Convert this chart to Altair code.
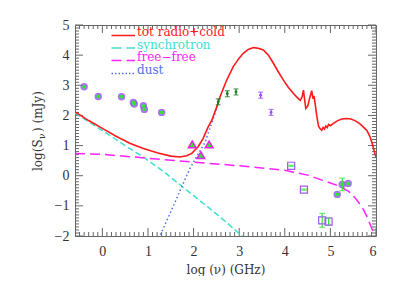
import altair as alt
import pandas as pd
import numpy as np

# ---- curves ----
tot_x = [-0.6, -0.3, 0.0, 0.3, 0.6, 0.9, 1.2, 1.5, 1.7, 1.85, 1.96, 2.1, 2.21, 2.32, 2.4, 2.5, 2.58, 2.72,
         2.87, 3.0, 3.09, 3.2, 3.31, 3.42, 3.53, 3.65, 3.75, 3.86, 3.97, 4.08, 4.19, 4.3, 4.34, 4.38, 4.41,
         4.43, 4.46, 4.5, 4.55, 4.59, 4.62, 4.64, 4.66, 4.7, 4.74, 4.78, 4.81, 4.84, 4.87, 4.9, 4.93, 4.96,
         5.0, 5.06, 5.15, 5.25, 5.35, 5.45, 5.55, 5.65, 5.72, 5.8, 5.87, 5.92, 5.96, 6.0]
tot_y = [2.12, 1.83, 1.57, 1.31, 1.08, 0.90, 0.76, 0.65, 0.62, 0.66, 0.74, 0.96, 1.24, 1.62, 1.84, 2.25, 2.62, 3.15,
         3.62, 3.90, 4.06, 4.19, 4.25, 4.23, 4.17, 3.98, 3.73, 3.44, 3.17, 2.93, 2.73, 2.55, 2.50, 2.62, 2.84,
         2.58, 2.23, 2.30, 2.60, 2.82, 2.55, 2.65, 2.45, 2.00, 1.64, 1.55, 1.51, 1.60, 1.55, 1.65, 1.60, 1.70,
         1.66, 1.73, 1.82, 1.88, 1.90, 1.88, 1.82, 1.72, 1.62, 1.50, 1.29, 1.05, 0.82, 0.62]
syn_x = [-0.6, 0.0, 0.5, 0.9, 1.4, 1.85, 2.3, 2.7, 3.06, 3.2]
syn_y = [2.08, 1.50, 1.00, 0.62, 0.07, -0.48, -1.02, -1.52, -2.0, -2.18]
ff_x = [-0.6, 0.0, 1.0, 2.0, 3.0, 4.0, 4.5, 5.0, 5.2, 5.4, 5.55, 5.7, 5.8, 5.9, 6.0]
ff_y = [0.74, 0.71, 0.58, 0.45, 0.33, 0.18, 0.02, -0.24, -0.35, -0.52, -0.75, -1.05, -1.35, -1.72, -2.1]
dust_x = [1.2, 1.26, 1.5, 1.74, 1.92, 2.1, 2.25, 2.4, 2.58]
dust_y = [-2.2, -2.0, -1.2, -0.37, 0.24, 0.72, 1.1, 1.75, 2.6]

# ---- observed points ----
circ_x = [-0.40, -0.09, 0.42, 0.68, 0.70, 0.90, 0.92, 1.30, 5.15, 5.26, 5.39]
circ_y = [2.95, 2.63, 2.62, 2.43, 2.38, 2.32, 2.20, 2.10, -0.62, -0.29, -0.26]
circ_e = [0, 0, 0, 0, 0, 0, 0, 0, 0, 0.21, 0]
tri_x = [1.97, 2.16, 2.34]
tri_y = [1.04, 0.68, 1.04]
sq_x = [4.14, 4.42, 4.82, 4.96]
sq_y = [0.33, -0.46, -1.48, -1.52]
sq_e = [0.02, 0.02, 0.23, 0.12]
gx = [2.54, 2.74, 2.93]
gy = [2.45, 2.72, 2.78]
pux = [3.47, 3.70]
puy = [2.67, 2.10]
lim_e = 0.1

x_ticks = [0, 1, 2, 3, 4, 5, 6]
y_ticks = [-2, -1, 0, 1, 2, 3, 4, 5]

legend_labels = ["tot radio+cold", "synchrotron", "free\u2212free", "dust"]
legend_colors = ["#ff1a1a", "#40e0d0", "#ff22ff", "#4f6fe8"]
ytitle_parts = ["log(S", "\u03bd", ") (mJy)"]

W, H = 301, 211
SERIF = "DejaVu Serif"
xs = alt.Scale(domain=[-0.6, 6], nice=False, zero=False)
ys = alt.Scale(domain=[-2, 5], nice=False, zero=False)

AX_X = alt.Axis(values=x_ticks, ticks=False, domain=False, grid=False, labelFont="Liberation Serif",
                labelFontSize=14, labelColor="#333", labelPadding=8, titleFont=SERIF,
                titleFontSize=12, titleFontWeight="normal", titleColor="#333", titlePadding=6)
AX_Y = alt.Axis(values=y_ticks, ticks=False, domain=False, grid=False, labelFont="Liberation Serif",
                labelFontSize=14, labelColor="#333", labelPadding=6)
XT = "log (\u03bd) (GHz)"

X = lambda f="x": alt.X(f, type="quantitative", scale=xs, axis=AX_X, title=XT)
Y = lambda f="y": alt.Y(f, type="quantitative", scale=ys, axis=AX_Y, title=None)

def line(xv, yv, color, dash=None, width=1.5):
    df = pd.DataFrame({"x": xv, "y": yv, "o": range(len(xv))})
    kw = dict(color=color, strokeWidth=width, clip=True)
    if dash:
        kw["strokeDash"] = dash
    return alt.Chart(df).mark_line(**kw).encode(x=X(), y=Y(), order="o:Q")

layers = []

# inward ticks
minor_x = [round(v, 1) for v in np.arange(-0.5, 6.0, 0.1) if abs(v - round(v)) > 1e-6]
minor_y = [round(v, 1) for v in np.arange(-1.9, 5.0, 0.1) if abs(v - round(v)) > 1e-6]
tick_col = "#666"
for vals, L in [(x_ticks, 8), (minor_x, 4)]:
    d = pd.DataFrame({"x": vals})
    layers.append(alt.Chart(d).mark_rule(color=tick_col, strokeWidth=1).encode(
        x=X(), y=alt.value(H), y2=alt.value(H - L)))
    layers.append(alt.Chart(d).mark_rule(color=tick_col, strokeWidth=1).encode(
        x=X(), y=alt.value(0), y2=alt.value(L)))
for vals, L in [(y_ticks, 8), (minor_y, 4)]:
    d = pd.DataFrame({"y": vals})
    layers.append(alt.Chart(d).mark_rule(color=tick_col, strokeWidth=1).encode(
        y=Y(), x=alt.value(0), x2=alt.value(L)))
    layers.append(alt.Chart(d).mark_rule(color=tick_col, strokeWidth=1).encode(
        y=Y(), x=alt.value(W), x2=alt.value(W - L)))

# curves
layers.append(line(syn_x, syn_y, legend_colors[1], [6, 3]))
layers.append(line(ff_x, ff_y, legend_colors[2], [10, 5]))
layers.append(line(dust_x, dust_y, legend_colors[3], [1.5, 2.5]))
layers.append(line(tot_x, tot_y, legend_colors[0], None, 1.6))

GREEN = "#2ee82e"
PURPLE = "#9b5cf0"

# circles
cdf = pd.DataFrame({"x": circ_x, "y": circ_y, "lo": [a - e for a, e in zip(circ_y, circ_e)],
                    "hi": [a + e for a, e in zip(circ_y, circ_e)], "e": circ_e})
cdf_e = cdf[cdf.e > 0]
layers.append(alt.Chart(cdf).mark_point(shape="circle", filled=True, size=55, color=PURPLE, opacity=0.85).encode(x=X(), y=Y()))
layers.append(alt.Chart(cdf).mark_point(shape="circle", filled=True, size=14, color=GREEN, opacity=1).encode(x=X(), y=Y()))
layers.append(alt.Chart(cdf_e).mark_rule(color=GREEN, strokeWidth=1.2).encode(x=X(), y=Y("lo"), y2="hi"))
for f in ["lo", "hi"]:
    layers.append(alt.Chart(cdf_e).mark_tick(color=GREEN, thickness=1.2, size=6, orient="horizontal").encode(x=X(), y=Y(f)))

# triangles
tdf = pd.DataFrame({"x": tri_x, "y": tri_y})
layers.append(alt.Chart(tdf).mark_point(shape="triangle-up", filled=True, size=60, fill=GREEN, stroke="#ee22ee",
                                        strokeWidth=1.5, opacity=1).encode(x=X(), y=Y()))

# squares
sdf = pd.DataFrame({"x": sq_x, "y": sq_y, "lo": [a - e for a, e in zip(sq_y, sq_e)],
                    "hi": [a + e for a, e in zip(sq_y, sq_e)]})
layers.append(alt.Chart(sdf).mark_rule(color=GREEN, strokeWidth=1.2).encode(x=X(), y=Y("lo"), y2="hi"))
for f in ["lo", "hi"]:
    layers.append(alt.Chart(sdf).mark_tick(color=GREEN, thickness=1.2, size=6, orient="horizontal").encode(x=X(), y=Y(f)))
layers.append(alt.Chart(sdf).mark_point(shape="square", filled=False, size=50, color=PURPLE, strokeWidth=1.2,
                                        opacity=1).encode(x=X(), y=Y()))

# limit-like error points
for xv, yv, col in [(gx, gy, "#1e7a1e"), (pux, puy, "#9b4dff")]:
    d = pd.DataFrame({"x": xv, "y": yv, "lo": [v - lim_e for v in yv], "hi": [v + lim_e for v in yv]})
    layers.append(alt.Chart(d).mark_rule(color=col, strokeWidth=1.2).encode(x=X(), y=Y("lo"), y2="hi"))
    for f in ["lo", "hi"]:
        layers.append(alt.Chart(d).mark_tick(color=col, thickness=1.2, size=5, orient="horizontal").encode(x=X(), y=Y(f)))
    layers.append(alt.Chart(d).mark_point(shape="circle", filled=True, size=8, color=col, opacity=1).encode(x=X(), y=Y()))

# legend
ly = [10.5, 23, 35.5, 48.5]
dashes = [None, [10, 5], [10, 5], [1.5, 2]]
for i, (lab, col) in enumerate(zip(legend_labels, legend_colors)):
    d = pd.DataFrame({"t": [lab]})
    kw = dict(color=col, strokeWidth=1.5)
    if dashes[i]:
        kw["strokeDash"] = dashes[i]
    layers.append(alt.Chart(d).mark_rule(**kw).encode(x=alt.value(36.5), x2=alt.value(60), y=alt.value(ly[i])))
    layers.append(alt.Chart(d).mark_text(align="left", baseline="alphabetic", font=SERIF, fontSize=12, color=col).encode(
        x=alt.value(62), y=alt.value(ly[i] + 0.5), text="t:N"))

# y-axis title with subscript nu
yt_pos = [(-33, 146, 12), (-30, 114, 9), (-33, 107, 12)]
for part, (tx, ty, fs) in zip(ytitle_parts, yt_pos):
    d = pd.DataFrame({"t": [part]})
    layers.append(alt.Chart(d).mark_text(align="left", baseline="alphabetic", angle=270, font=SERIF,
                                         fontSize=fs, color="#333").encode(
        x=alt.value(tx), y=alt.value(ty), text="t:N"))

chart = alt.layer(*layers).properties(
    width=W, height=H,
    autosize=alt.AutoSizeParams(type="none"),
    padding={"left": 67, "top": 17, "right": 10, "bottom": 40},
).configure_view(stroke="#666", strokeWidth=1)

chart.save("out.html", embed_options={"renderer": "svg", "actions": False})
